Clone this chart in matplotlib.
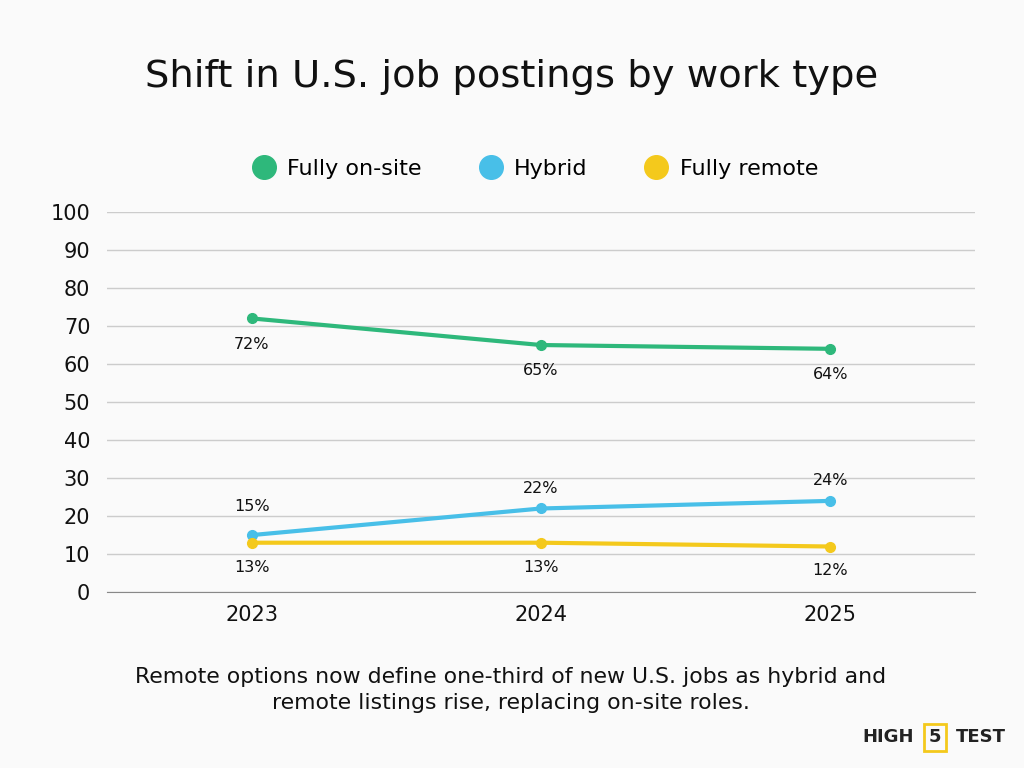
import numpy as np
import matplotlib.pyplot as plt

plt.rcParams['font.family'] = ['DejaVu Sans']

years = ['2023', '2024', '2025']
onsite = [72, 65, 64]
hybrid = [15, 22, 24]
remote = [13, 13, 12]

c_green = '#2eb87b'
c_blue = '#48bfe8'
c_yellow = '#f4c91c'
bg = '#fafafa'

fig = plt.figure(figsize=(10.24, 7.68), dpi=100, facecolor=bg)
ax = fig.add_axes([0.1045, 0.229, 0.8475, 0.495], facecolor=bg)

x = np.arange(len(years))
ax.plot(x, onsite, color=c_green, lw=3, marker='o', ms=7, label='Fully on-site')
ax.plot(x, hybrid, color=c_blue, lw=3, marker='o', ms=7, label='Hybrid')
ax.plot(x, remote, color=c_yellow, lw=3, marker='o', ms=7, label='Fully remote')

hyb_off = [15, 9, 9]
for i in x:
    ax.annotate(f'{onsite[i]}%', (i, onsite[i]), xytext=(0, -24), textcoords='offset points',
                ha='center', va='bottom', fontsize=11.5, color='#111111')
    ax.annotate(f'{hybrid[i]}%', (i, hybrid[i]), xytext=(0, hyb_off[i]), textcoords='offset points',
                ha='center', va='bottom', fontsize=11.5, color='#111111')
    ax.annotate(f'{remote[i]}%', (i, remote[i]), xytext=(0, -23), textcoords='offset points',
                ha='center', va='bottom', fontsize=11.5, color='#111111')

ax.set_xlim(-0.5, 2.5)
ax.set_ylim(0, 100)
ax.set_yticks(range(0, 101, 10))
ax.set_xticks(x)
ax.set_xticklabels(years)
ax.tick_params(axis='both', length=0, labelsize=15, colors='#111111')
ax.tick_params(axis='y', pad=12)
ax.tick_params(axis='x', pad=9)
ax.grid(axis='y', color='#cccccc', lw=1)
ax.set_axisbelow(True)
for s in ['left', 'right', 'top']:
    ax.spines[s].set_visible(False)
ax.spines['bottom'].set_color('#888888')

leg = fig.legend(loc='center', bbox_to_anchor=(0.523, 0.78), ncol=3, frameon=False,
                 fontsize=16, handlelength=1, handletextpad=0.55, columnspacing=2.6)
for h in leg.legend_handles:
    h.set_linestyle('none')
    h.set_markersize(17)

fig.text(0.5, 0.9, 'Shift in U.S. job postings by work type', ha='center', va='center',
         fontsize=27.7, color='#111111')
fig.text(0.499, 0.101, 'Remote options now define one-third of new U.S. jobs as hybrid and\n'
         'remote listings rise, replacing on-site roles.', ha='center', va='center',
         fontsize=15.8, color='#111111', linespacing=1.38)

# logo
fig.text(0.8418, 0.04, 'HIGH', ha='left', va='center', fontsize=13, fontweight='bold', color='#222222')
fig.text(0.913, 0.04, '5', ha='center', va='center', fontsize=13, fontweight='bold', color='#222222',
         bbox=dict(boxstyle='square,pad=0.25', fc='none', ec=c_yellow, lw=2))
fig.text(0.933, 0.04, 'TEST', ha='left', va='center', fontsize=13, fontweight='bold', color='#222222')

fig.savefig('out.png', dpi=100, facecolor=bg)
